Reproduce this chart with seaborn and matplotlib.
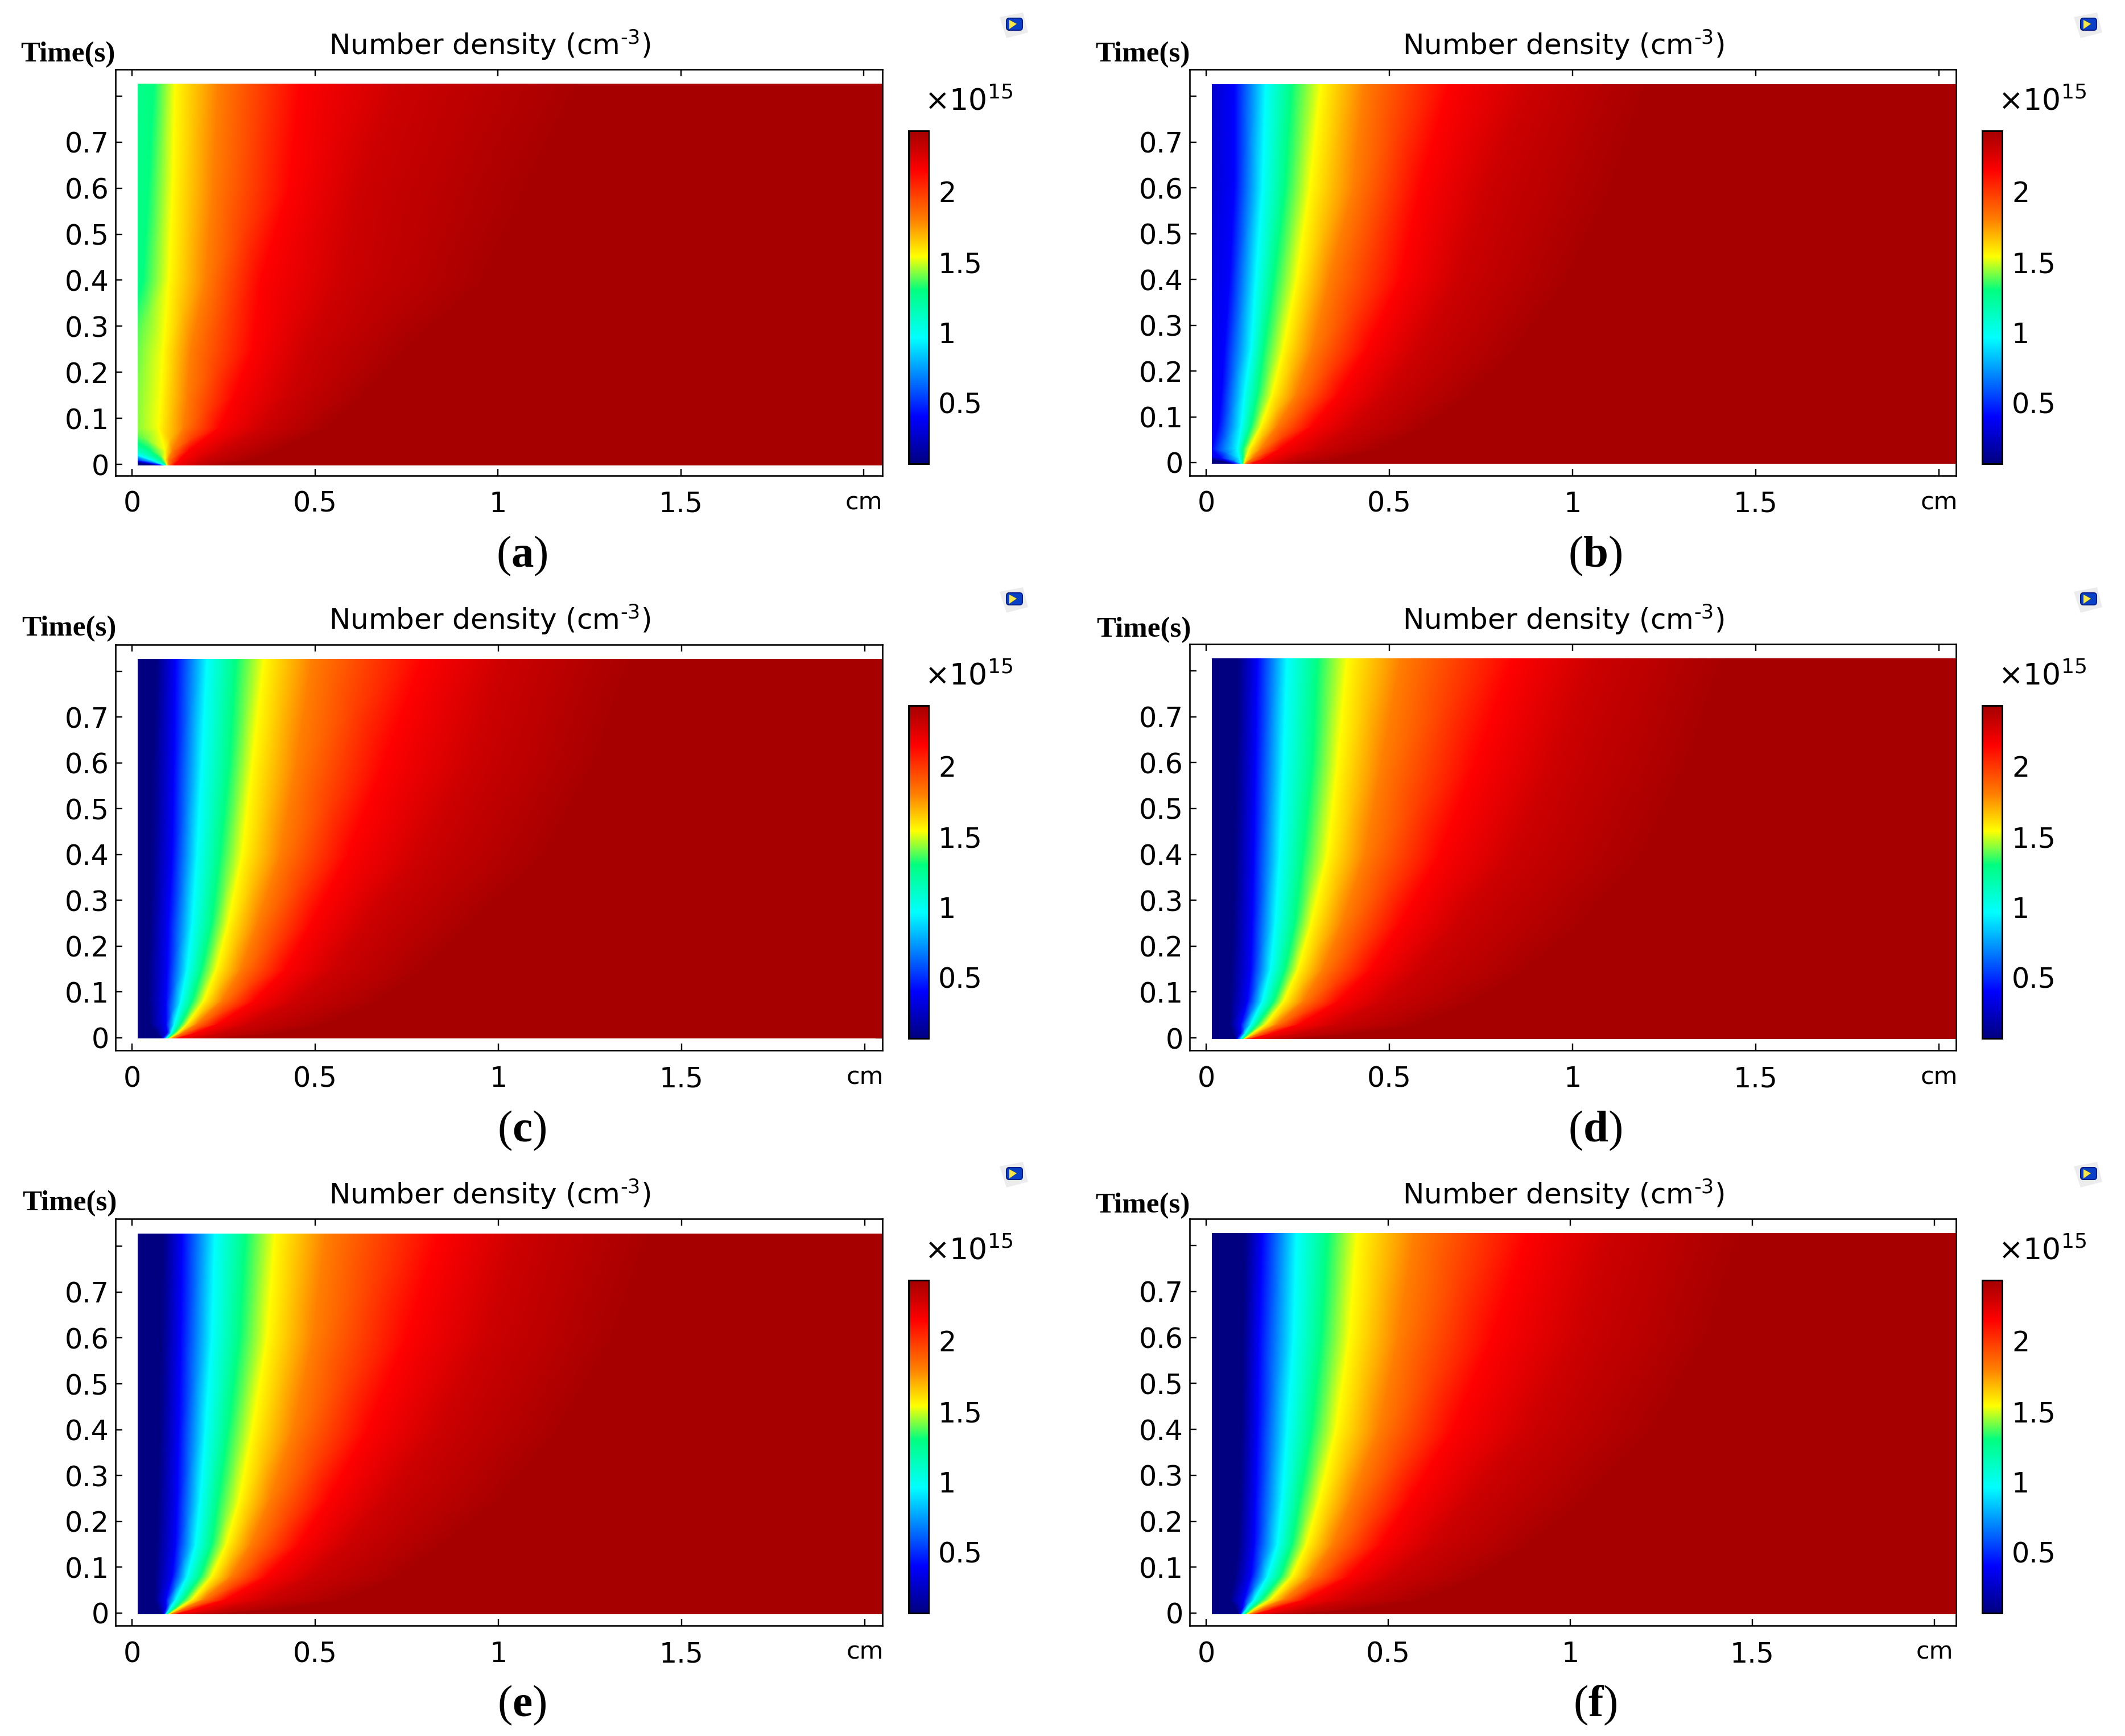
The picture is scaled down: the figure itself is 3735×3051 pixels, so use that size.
import numpy as np
import matplotlib
matplotlib.use("Agg")
import matplotlib.pyplot as plt
from matplotlib.colors import LinearSegmentedColormap, Normalize
from matplotlib.patches import Rectangle, Polygon, FancyBboxPatch
import seaborn as sns

# Colour-scale levels (units of 1e15 cm^-3)
density_levels = [0.0675, 0.4, 0.96, 1.3, 1.54, 1.8, 2.15, 2.3, 2.43]
level_colors = [(0, 0, .5), (0, 0, 1), (0, 1, 1), (0, 1, .5), (1, 1, 0),
                (1, .5, 0), (1, 0, 0), (.8, 0, 0), (.65, 0, 0)]
time_rows = [-0.002, .01, .03, .08, .15, .25, .4, .6, .83]

# For each panel: position in cm where each density level is reached (row = time, column = level)
iso_a = [[.06, .08, .09, .092, .095, .10, .115, .17, .24],
         [-.05, 0.0, .05, .08, .09, .10, .13, .20, .33],
         [-.10, -.06, -.02, .05, .09, .11, .155, .25, .40],
         [-.5, -.4, -.2, -.05, .072, .14, .24, .36, .54],
         [-.5, -.4, -.2, -.05, .078, .15, .28, .43, .64],
         [-.5, -.4, -.2, -.03, .085, .16, .33, .48, .76],
         [-.7, -.6, -.4, .03, .10, .20, .353, .58, .98],
         [-.7, -.6, -.4, .045, .11, .22, .43, .63, 1.10],
         [-.7, -.6, -.4, .06, .117, .235, .46, .73, 1.25]]
iso_b = [[.068, .077, .095, .10, .102, .108, .126, .184, .25],
         [0.0, .04, .09, .10, .108, .126, .162, .24, .38],
         [-.3, .015, .085, .10, .117, .149, .202, .31, .48],
         [-.3, .033, .095, .122, .149, .193, .29, .407, .61],
         [-.25, .042, .104, .14, .18, .246, .362, .495, .73],
         [-.2, .05, .122, .157, .21, .29, .44, .585, .86],
         [-.15, .064, .135, .184, .246, .335, .53, .69, 1.0],
         [-.1, .077, .153, .215, .282, .40, .585, .77, 1.12],
         [-.08, .077, .162, .233, .313, .43, .665, .89, 1.22]]
iso_c = [[.08, .084, .093, .097, .10, .108, .124, .18, .26],
         [.066, .097, .106, .115, .124, .137, .173, .244, .41],
         [.048, .093, .115, .133, .15, .177, .235, .324, .54],
         [.044, .093, .133, .164, .195, .244, .333, .448, .68],
         [.044, .097, .15, .19, .23, .297, .42, .555, .81],
         [.048, .10, .164, .217, .262, .342, .49, .644, .94],
         [.052, .11, .177, .24, .30, .404, .59, .795, 1.14],
         [.057, .115, .19, .266, .328, .448, .689, .93, 1.28],
         [.066, .119, .204, .284, .36, .49, .795, 1.02, 1.38]]
iso_d = [[.08, .084, .095, .10, .103, .11, .126, .18, .26],
         [.073, .095, .106, .116, .126, .144, .18, .255, .42],
         [.064, .095, .122, .14, .162, .193, .255, .362, .59],
         [.064, .113, .153, .184, .211, .264, .362, .487, .74],
         [.068, .122, .175, .215, .25, .318, .451, .585, .89],
         [.073, .126, .188, .242, .286, .371, .531, .691, 1.04],
         [.077, .13, .20, .264, .33, .433, .638, .842, 1.21],
         [.082, .135, .21, .29, .358, .478, .736, .958, 1.33],
         [.086, .14, .22, .304, .384, .53, .84, 1.065, 1.43]]
iso_e = [[.082, .088, .093, .097, .10, .108, .124, .18, .26],
         [.07, .093, .103, .115, .125, .141, .177, .262, .42],
         [.061, .093, .119, .141, .164, .195, .257, .368, .59],
         [.061, .11, .15, .186, .217, .27, .368, .493, .74],
         [.066, .119, .173, .217, .257, .324, .457, .59, .86],
         [.07, .124, .186, .235, .293, .377, .537, .70, 1.02],
         [.075, .128, .20, .262, .328, .44, .644, .84, 1.18],
         [.08, .133, .217, .293, .368, .493, .75, .973, 1.33],
         [.084, .137, .226, .31, .39, .528, .84, 1.06, 1.43]]
iso_f = [[.087, .094, .10, .107, .112, .121, .141, .195, .285],
         [.082, .10, .112, .123, .134, .154, .19, .275, .44],
         [.064, .105, .132, .154, .177, .213, .275, .392, .60],
         [.078, .123, .168, .204, .235, .289, .392, .517, .76],
         [.087, .132, .195, .235, .275, .347, .482, .625, .90],
         [.091, .136, .208, .257, .311, .40, .562, .733, 1.06],
         [.096, .141, .222, .289, .356, .473, .679, .894, 1.24],
         [.10, .145, .239, .316, .392, .526, .786, 1.029, 1.39],
         [.105, .154, .248, .334, .414, .571, .885, 1.118, 1.49]]
panel_isos = [iso_a, iso_b, iso_c, iso_d, iso_e, iso_f]
panel_letters = ["a", "b", "c", "d", "e", "f"]

x_ticks = [0, .5, 1, 1.5, 2]
x_tick_labels = ["0", "0.5", "1", "1.5", "cm"]
t_ticks = [0, .1, .2, .3, .4, .5, .6, .7, .8]
t_tick_labels = ["0", "0.1", "0.2", "0.3", "0.4", "0.5", "0.6", "0.7", ""]
cbar_ticks = [.5, 1, 1.5, 2]
cbar_tick_labels = ["0.5", "1", "1.5", "2"]

# Layout in reference pixels
W, H = 3735, 3051
col_left = [203, 2091]
col_right = [1551, 3438]
col_x0 = [232, 2120]
px_per_cm = [643, 644, 644, 644, 644, 640]
row_top = [122, 122, 1133, 1132, 2142, 2142]
row_bottom = [836, 836, 1846, 1846, 2857, 2857]
t0_px = [816, 813, 1823.5, 1824, 2835, 2835]
px_per_s = [809, 804.5, 805, 806, 806, 807.5]
time_label_xy = [(119, 96), (2008, 96), (121, 1105), (2010, 1107), (122, 2115), (2008, 2119)]
DOMAIN_X0 = 0.016
DOMAIN_T1 = 0.827


def pt(px):
    return px * 0.72


sns.set_theme(style="ticks", rc={"axes.facecolor": "white", "figure.facecolor": "white"})
plt.rcParams["font.family"] = "DejaVu Sans"
plt.rcParams["mathtext.fontset"] = "custom"
plt.rcParams["mathtext.rm"] = "DejaVu Sans"
plt.rcParams["mathtext.bf"] = "Liberation Serif:bold"
plt.rcParams["mathtext.default"] = "rm"

cmap = LinearSegmentedColormap.from_list(
    "comsol_rainbow",
    [((v - density_levels[0]) / (density_levels[-1] - density_levels[0]), c)
     for v, c in zip(density_levels, level_colors)], N=1024)
norm = Normalize(density_levels[0], density_levels[-1])

fig = plt.figure(figsize=(W / 100, H / 100), dpi=100)
overlay = fig.add_axes([0, 0, 1, 1], zorder=10)
overlay.set_xlim(0, W)
overlay.set_ylim(H, 0)
overlay.axis("off")
overlay.patch.set_alpha(0)


def logo(x, y):
    overlay.add_patch(Polygon([(x, y + 8), (x + 41, y), (x + 50, y + 35), (x + 12, y + 45)],
                              closed=True, fc="#ececec", ec="none"))
    overlay.add_patch(FancyBboxPatch((x + 12, y + 10), 28, 21, boxstyle="round,pad=0,rounding_size=5",
                                     fc="#0a40c8", ec="#04208a", lw=1.5))
    overlay.add_patch(Polygon([(x + 17, y + 13), (x + 30, y + 20), (x + 17, y + 29)],
                              closed=True, fc="#f6e84a", ec="none"))


for i, iso in enumerate(panel_isos):
    col = i % 2
    row = i // 2
    dy = row * 1010
    L, R, T, B = col_left[col], col_right[col], row_top[i], row_bottom[i]
    ax = fig.add_axes([L / W, 1 - B / H, (R - L) / W, (B - T) / H])
    xlim = ((L - col_x0[col]) / px_per_cm[i], (R - col_x0[col]) / px_per_cm[i])
    ylim = ((t0_px[i] - B) / px_per_s[i], (t0_px[i] - T) / px_per_s[i])

    iso_arr = np.array(iso)
    n_rows = iso_arr.shape[0]
    X = np.column_stack([np.full(n_rows, -1.2), iso_arr, np.full(n_rows, 2.2)])
    Y = np.tile(np.array(time_rows)[:, None], (1, X.shape[1]))
    Z = np.tile(np.array([density_levels[0]] + density_levels + [density_levels[-1]]), (n_rows, 1))
    mesh = ax.pcolormesh(X, Y, Z, cmap=cmap, norm=norm, shading="gouraud")
    ax.set_xlim(*xlim)
    ax.set_ylim(*ylim)
    mesh.set_clip_path(Rectangle((DOMAIN_X0, -0.002), xlim[1] - DOMAIN_X0, DOMAIN_T1 + 0.002,
                                 transform=ax.transData))

    ax.set_xticks(x_ticks)
    ax.set_xticklabels(x_tick_labels)
    ax.set_yticks(t_ticks)
    ax.set_yticklabels(t_tick_labels)
    ax.tick_params(axis="both", direction="in", top=True, right=True, length=pt(12), width=pt(2.4),
                   color="black", labelsize=pt(49), labelcolor="black")
    ax.tick_params(axis="x", pad=pt(26))
    ax.tick_params(axis="y", pad=pt(11))
    ax.get_xticklabels()[-1].set_fontsize(pt(43))
    for s in ax.spines.values():
        s.set_linewidth(pt(2.6))
        s.set_color("black")
    sns.despine(ax=ax, top=False, right=False)

    cx0 = col_right[col] + 46
    cbar_top, cbar_bottom = 230 + dy, 815 + dy
    cax = fig.add_axes([cx0 / W, 1 - cbar_bottom / H, 35 / W, (cbar_bottom - cbar_top) / H])
    cb = fig.colorbar(mesh, cax=cax, ticks=cbar_ticks)
    cb.set_ticklabels(cbar_tick_labels)
    cax.tick_params(axis="y", direction="in", left=True, right=True, length=pt(5), width=pt(2),
                    color="black", labelsize=pt(49), labelcolor="black", pad=pt(17))
    cb.outline.set_linewidth(pt(3))
    cb.outline.set_edgecolor("black")

    overlay.text((L + R) / 2 - 16.5, 96 + dy, r"Number density (cm$^{\text{-}3}$)",
                 ha="center", va="baseline", fontsize=pt(50), color="black")
    overlay.text(cx0 + 28, 194 + dy, "×10$^{15}$", ha="left", va="baseline", fontsize=pt(52), color="black")
    tx, ty = time_label_xy[i]
    overlay.text(tx, ty, "Time(s)", ha="center", va="center", fontsize=pt(51), fontweight="bold",
                 family="Liberation Serif", color="black")
    overlay.text((917 if col == 0 else 2804), 977 + dy, "($\\mathbf{%s}$)" % panel_letters[i],
                 ha="center", va="center", fontsize=pt(79), family="Liberation Serif", color="black")
    logo(1757 if col == 0 else 3645, 22 + dy)

fig.savefig("out.png", dpi=100)
